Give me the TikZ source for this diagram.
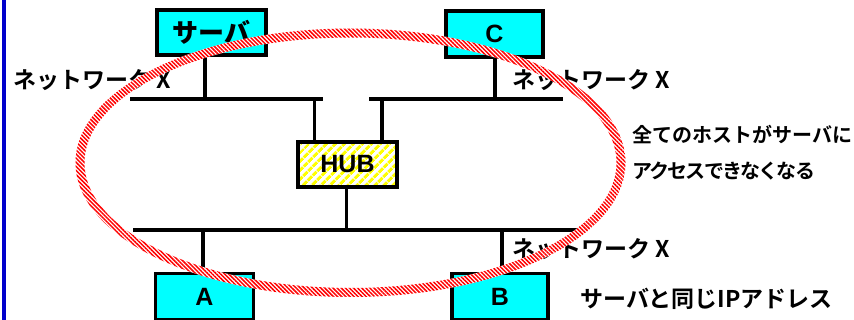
\documentclass[tikz,border=0pt]{standalone}
\usepackage{fontspec}
\usetikzlibrary{patterns.meta}
\newfontfamily\jp{Noto Sans CJK JP Bold}
\newfontfamily\jptight{Noto Sans CJK JP Bold}[LetterSpace=-9]
\newfontfamily\lat{Liberation Sans}
\definecolor{boxcyan}{RGB}{0,255,255}
\definecolor{sideblue}{RGB}{0,0,204}
\tikzset{
  cbox/.style={draw=black, line width=3.2pt, fill=boxcyan, inner sep=0pt,
    font=\lat\bfseries\fontsize{25}{25}\selectfont},
  hubbox/.style={draw=black, line width=3.2pt, inner sep=0pt,
    pattern={Lines[angle=45,distance=6.5pt,line width=3.2pt]}, pattern color=yellow,
    font=\lat\bfseries\fontsize{25}{25}\selectfont},
  wire/.style={draw=black, line width=3.6pt},
  lbl/.style={anchor=west, inner sep=0pt, text=black},
}
\begin{document}
\begin{tikzpicture}[x=1pt,y=-1pt]
\useasboundingbox (0,0) rectangle (854,320);
\fill[white] (0,0) rectangle (854,320);
% left blue bar
\coordinate (blueT) at (4,0);
\coordinate (blueB) at (4,320);
\draw[sideblue, line width=4.5pt] (blueT) -- (blueB);

% boxes
\node[cbox, minimum width=109pt, minimum height=45pt] (srv) at (211.5,32.5) {\jp\fontsize{26}{26}\selectfont サーバ};
\node[cbox, minimum width=97pt, minimum height=46pt] (C) at (494.5,34) {C};
\node[hubbox, minimum width=99pt, minimum height=45pt] (hub) at (347.5,164.5) {HUB};
\node[cbox, minimum width=98pt, minimum height=46pt] (A) at (204.5,296.5) {A};
\node[cbox, minimum width=96pt, minimum height=46pt] (B) at (500,296.5) {B};

% bus coordinates
\coordinate (t1l) at (130,99);
\coordinate (t1r) at (323,99);
\coordinate (t2l) at (369,99);
\coordinate (t2r) at (563,99);
\coordinate (bl) at (133,230);
\coordinate (br) at (577,230);
\coordinate (sV) at (205,99);
\coordinate (cV) at (495,99);
\coordinate (h1) at (314.5,99);
\coordinate (h2) at (382,99);
\coordinate (hD) at (346.5,230);
\coordinate (aV) at (203,230);
\coordinate (bV) at (502,230);

\draw[wire] (t1l) -- (t1r);
\draw[wire] (t2l) -- (t2r);
\draw[wire] (bl) -- (br);
\draw[wire] (sV |- srv.south) -- (sV);
\draw[wire] (cV |- C.south) -- (cV);
\draw[wire] (h1) -- (h1 |- hub.north);
\draw[wire] (h2) -- (h2 |- hub.north);
\draw[wire] (hD |- hub.south) -- (hD);
\draw[wire] (aV) -- (aV |- A.north);
\draw[wire] (bV) -- (bV |- B.north);

% labels
\node[lbl, font=\jp\fontsize{23}{23}\selectfont] (nx1) at (13,80) {ネットワーク X};
\node[lbl, font=\jp\fontsize{23}{23}\selectfont] (nx2) at (512,80) {ネットワーク X};
\node[lbl, font=\jp\fontsize{23}{23}\selectfont] (nx3) at (512,249) {ネットワーク X};
\node[lbl, font=\jp\fontsize{20}{20}\selectfont] (msg1) at (632,135) {全てのホストがサーバに};
\node[lbl, font=\jptight\fontsize{20}{20}\selectfont] (msg2) at (632,171) {アクセスできなくなる};
\node[lbl, font=\jp\fontsize{23}{23}\selectfont] (ip) at (580,298.5) {サーバと同じIPアドレス};

% red hatched ellipse (white band with red diagonal hatching)
\coordinate (ec) at (350.5,162.75);
\fill[white, even odd rule] (ec) ellipse [x radius=275, y radius=134.25]
  (ec) ellipse [x radius=266, y radius=125.25];
\fill[pattern={Lines[angle=-45,distance=2.9pt,line width=1.5pt]}, pattern color=red, even odd rule]
  (ec) ellipse [x radius=275, y radius=134.25]
  (ec) ellipse [x radius=266, y radius=125.25];
\end{tikzpicture}
\end{document}
